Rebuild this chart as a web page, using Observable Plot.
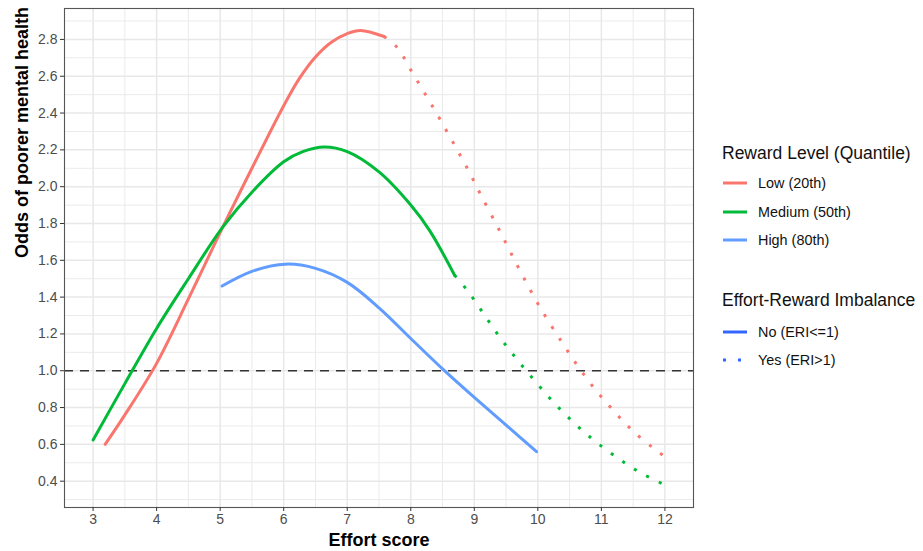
<!DOCTYPE html>
<html>
<head>
<meta charset="utf-8">
<script src="https://cdn.jsdelivr.net/npm/d3@7"></script>
<script src="https://cdn.jsdelivr.net/npm/@observablehq/plot@0.6"></script>
<style>
  html, body { margin: 0; padding: 0; background: #fff; }
  #wrap { position: relative; width: 923px; height: 551px; font-family: "Liberation Sans", Arial, sans-serif; }
  #legend { position: absolute; left: 722px; top: 141px; color: #111; }
  .ttl { font-size: 17.5px; height: 24px; line-height: 24px; white-space: nowrap; }
  .row { display: flex; align-items: center; height: 28.5px; font-size: 14.4px; white-space: nowrap; }
  .row svg { margin-right: 10px; }
</style>
</head>
<body>
<div id="wrap"></div>
<script>
// ---- Data ----
const seriesNames = ["Low (20th)", "Medium (50th)", "High (80th)"];
const seriesColors = ["#F8766D", "#00BA38", "#619CFF"];
const eriNames = ["No (ERI<=1)", "Yes (ERI>1)"];

// Low reward, no imbalance (solid)
const lowSolidEffort = [3.19, 3.5, 4.0, 4.5, 5.04, 5.5, 6.0, 6.25, 6.5, 6.75, 7.0, 7.21, 7.58];
const lowSolidOdds   = [0.60, 0.76, 1.04, 1.39, 1.78, 2.10, 2.44, 2.59, 2.705, 2.785, 2.832, 2.849, 2.816];
// Low reward, imbalance (dotted)
const lowDotEffort = [7.58, 7.79, 8.02, 8.25, 8.47, 8.69, 8.90, 9.10, 9.41, 9.71, 10.03, 10.38, 10.63, 10.89, 11.18, 11.48, 11.82, 12.0];
const lowDotOdds   = [2.816, 2.755, 2.622, 2.49, 2.36, 2.225, 2.093, 1.957, 1.753, 1.55, 1.347, 1.154, 1.025, 0.904, 0.787, 0.678, 0.579, 0.533];

// Medium reward
const medSolidEffort = [3.0, 3.5, 4.0, 4.5, 5.04, 5.5, 6.0, 6.3, 6.64, 7.0, 7.5, 8.0, 8.3, 8.69];
const medSolidOdds   = [0.624, 0.93, 1.23, 1.50, 1.78, 1.97, 2.135, 2.19, 2.215, 2.19, 2.08, 1.90, 1.76, 1.519];
const medDotEffort = [8.69, 8.9, 9.15, 9.4, 9.67, 9.96, 10.25, 10.56, 10.89, 11.25, 11.61, 12.0];
const medDotOdds   = [1.519, 1.432, 1.308, 1.183, 1.062, 0.942, 0.828, 0.72, 0.62, 0.528, 0.447, 0.38];

// High reward (no imbalance segment only)
const highSolidEffort = [5.03, 5.5, 6.03, 6.5, 7.0, 7.5, 8.0, 8.5, 9.0, 9.5, 9.98];
const highSolidOdds   = [1.46, 1.54, 1.579, 1.556, 1.48, 1.342, 1.175, 1.01, 0.855, 0.705, 0.56];

const xTicks = [3, 4, 5, 6, 7, 8, 9, 10, 11, 12];
const yTicks = [0.4, 0.6, 0.8, 1.0, 1.2, 1.4, 1.6, 1.8, 2.0, 2.2, 2.4, 2.6, 2.8];
const xMinor = [3.5, 4.5, 5.5, 6.5, 7.5, 8.5, 9.5, 10.5, 11.5];
const yMinor = [0.3, 0.5, 0.7, 0.9, 1.1, 1.3, 1.5, 1.7, 1.9, 2.1, 2.3, 2.5, 2.7, 2.9];
const referenceOdds = 1.0;

// ---- Build tables ----
function seg(xs, ys, series, eri) {
  return xs.map((x, i) => ({effort: x, odds: ys[i], series, eri}));
}
const solidData = [
  ...seg(lowSolidEffort, lowSolidOdds, seriesNames[0], eriNames[0]),
  ...seg(medSolidEffort, medSolidOdds, seriesNames[1], eriNames[0]),
  ...seg(highSolidEffort, highSolidOdds, seriesNames[2], eriNames[0])
];
const dotData = [
  ...seg(lowDotEffort, lowDotOdds, seriesNames[0], eriNames[1]),
  ...seg(medDotEffort, medDotOdds, seriesNames[1], eriNames[1])
];

const colorScale = {domain: seriesNames, range: seriesColors};
const fmt = d3.format(".1f");

const chart = Plot.plot({
  width: 923,
  height: 551,
  marginLeft: 64,
  marginTop: 8,
  marginRight: 230,
  marginBottom: 44,
  style: {fontFamily: "'Liberation Sans', Arial, sans-serif", background: "white", overflow: "visible"},
  x: {domain: [2.55, 12.45]},
  y: {domain: [0.257, 2.968]},
  color: colorScale,
  marks: [
    Plot.gridX(xMinor, {stroke: "#EBEBEB", strokeOpacity: 1, strokeWidth: 1}),
    Plot.gridY(yMinor, {stroke: "#EBEBEB", strokeOpacity: 1, strokeWidth: 1}),
    Plot.gridX(xTicks, {stroke: "#E8E8E8", strokeOpacity: 1, strokeWidth: 1.5}),
    Plot.gridY(yTicks, {stroke: "#E8E8E8", strokeOpacity: 1, strokeWidth: 1.5}),
    Plot.ruleY([referenceOdds], {stroke: "#333", strokeWidth: 1.7, strokeDasharray: "9 7"}),
    Plot.line(solidData, {x: "effort", y: "odds", z: "series", stroke: "series", strokeWidth: 3, curve: "catmull-rom"}),
    Plot.line(dotData, {x: "effort", y: "odds", z: "series", stroke: "series", strokeWidth: 3, curve: "catmull-rom", strokeDasharray: "3 11", strokeLinecap: "butt"}),
    Plot.frame({stroke: "#555", strokeWidth: 1.1}),
    Plot.axisX(xTicks, {anchor: "bottom", tickSize: 4, tickPadding: 3, fontSize: 14, color: "#4D4D4D", stroke: "#333", label: null}),
    Plot.axisY(yTicks, {anchor: "left", tickSize: 4, tickPadding: 3, fontSize: 14, color: "#4D4D4D", stroke: "#333", label: null, tickFormat: fmt}),
    Plot.text(["Odds of poorer mental health"], {frameAnchor: "left", rotate: -90, dx: -42, fontSize: 18, fontWeight: "bold", fill: "#000", lineAnchor: "middle"}),
    Plot.text(["Effort score"], {frameAnchor: "bottom", dy: 33, fontSize: 18, fontWeight: "bold", fill: "#000", lineAnchor: "middle"})
  ]
});

const wrap = document.getElementById("wrap");
wrap.appendChild(chart);

// ---- Legend (HTML, to the right of the panel) ----
const legend = document.createElement("div");
legend.id = "legend";
function keySvg(color, dashed) {
  const ns = "http://www.w3.org/2000/svg";
  const s = document.createElementNS(ns, "svg");
  s.setAttribute("width", 26); s.setAttribute("height", 12);
  const l = document.createElementNS(ns, "line");
  l.setAttribute("x1", 1); l.setAttribute("x2", 25);
  l.setAttribute("y1", 6); l.setAttribute("y2", 6);
  l.setAttribute("stroke", color); l.setAttribute("stroke-width", 3);
  if (dashed) l.setAttribute("stroke-dasharray", "3 12");
  s.appendChild(l);
  return s;
}
function addTitle(text, mt) {
  const t = document.createElement("div");
  t.className = "ttl"; t.textContent = text; t.style.marginTop = mt + "px";
  legend.appendChild(t);
}
function addRow(text, color, dashed, mt) {
  const r = document.createElement("div");
  r.className = "row"; r.style.marginTop = mt + "px";
  r.appendChild(keySvg(color, dashed));
  const sp = document.createElement("span"); sp.textContent = text;
  r.appendChild(sp);
  legend.appendChild(r);
}
addTitle("Reward Level (Quantile)", 0);
seriesNames.forEach((n, i) => addRow(n, seriesColors[i], false, i === 0 ? 3.75 : 0));
addTitle("Effort-Reward Imbalance", 33.75);
addRow(eriNames[0], "#3366FF", false, 5.5);
addRow(eriNames[1], "#3366FF", true, 0);
wrap.appendChild(legend);
</script>
</body>
</html>
